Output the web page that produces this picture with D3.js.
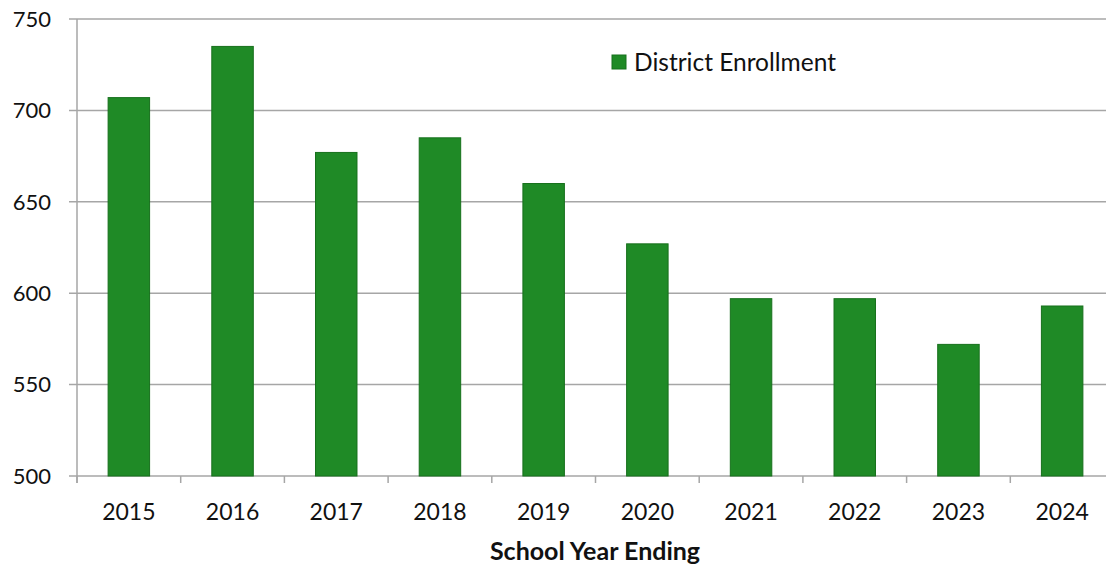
<!DOCTYPE html>
<html>
<head>
<meta charset="utf-8">
<script src="https://cdn.jsdelivr.net/npm/d3@7"></script>
<style>
  html, body { margin: 0; padding: 0; background: #fff; }
  svg { display: block; font-family: Lato, "Open Sans", "Liberation Sans", sans-serif; }
</style>
</head>
<body>
<svg id="chart" width="1106" height="564"></svg>
<script>
// Enrollment by school year
const years = ["2015", "2016", "2017", "2018", "2019", "2020", "2021", "2022", "2023", "2024"];
const enrollment = [707, 735, 677, 685, 660, 627, 597, 597, 572, 593];
const yTicks = [500, 550, 600, 650, 700, 750];
const seriesName = "District Enrollment";
const xTitle = "School Year Ending";

(function () {
  const svg = d3.select("#chart");
  const plotLeft = 77, plotRight = 1114, plotTop = 19, plotBottom = 476;

  const x = d3.scaleBand().domain(years).range([plotLeft, plotRight]).paddingInner(0.6).paddingOuter(0.3);
  const y = d3.scaleLinear().domain([500, 750]).range([plotBottom, plotTop]);

  const gridColor = "#a6a6a6";

  // horizontal gridlines
  svg.append("g").selectAll("line").data(yTicks).join("line")
    .attr("x1", plotLeft - 8).attr("x2", 1106)
    .attr("y1", d => y(d)).attr("y2", d => y(d))
    .attr("stroke", gridColor).attr("stroke-width", 1.5);

  // y axis line
  svg.append("line")
    .attr("x1", plotLeft).attr("x2", plotLeft)
    .attr("y1", plotTop).attr("y2", plotBottom + 7)
    .attr("stroke", gridColor).attr("stroke-width", 1.5);

  // category boundary ticks
  const step = x.step();
  const bounds = d3.range(years.length + 1).map(i => plotLeft + i * step);
  svg.append("g").selectAll("line").data(bounds).join("line")
    .attr("x1", d => d).attr("x2", d => d)
    .attr("y1", plotBottom).attr("y2", plotBottom + 7)
    .attr("stroke", gridColor).attr("stroke-width", 1.5);

  // y tick labels
  svg.append("g").selectAll("text").data(yTicks).join("text")
    .attr("x", 51).attr("y", d => y(d))
    .attr("dy", "0.35em")
    .attr("text-anchor", "end")
    .attr("font-size", 22)
    .attr("fill", "#111")
    .text(d => d);

  // bars
  svg.append("g").selectAll("rect").data(years).join("rect")
    .attr("x", d => x(d))
    .attr("width", x.bandwidth())
    .attr("y", (d, i) => y(enrollment[i]))
    .attr("height", (d, i) => y(500) - y(enrollment[i]))
    .attr("fill", "#1f8a26")
    .attr("stroke", "#17701c")
    .attr("stroke-width", 1);

  // x tick labels
  svg.append("g").selectAll("text").data(years).join("text")
    .attr("x", d => x(d) + x.bandwidth() / 2)
    .attr("y", 520)
    .attr("text-anchor", "middle")
    .attr("font-size", 23)
    .attr("fill", "#111")
    .text(d => d);

  // axis title
  svg.append("text")
    .attr("x", 595).attr("y", 560)
    .attr("text-anchor", "middle")
    .attr("font-size", 25)
    .attr("font-weight", "bold")
    .attr("fill", "#111")
    .text(xTitle);

  // legend
  const legend = svg.append("g").attr("transform", "translate(612,55)");
  legend.append("rect")
    .attr("width", 14).attr("height", 14)
    .attr("fill", "#1f8a26").attr("stroke", "#17701c");
  legend.append("text")
    .attr("x", 22).attr("y", 7)
    .attr("dy", "0.35em")
    .attr("font-size", 24.5)
    .attr("fill", "#111")
    .text(seriesName);
})();
</script>
</body>
</html>
